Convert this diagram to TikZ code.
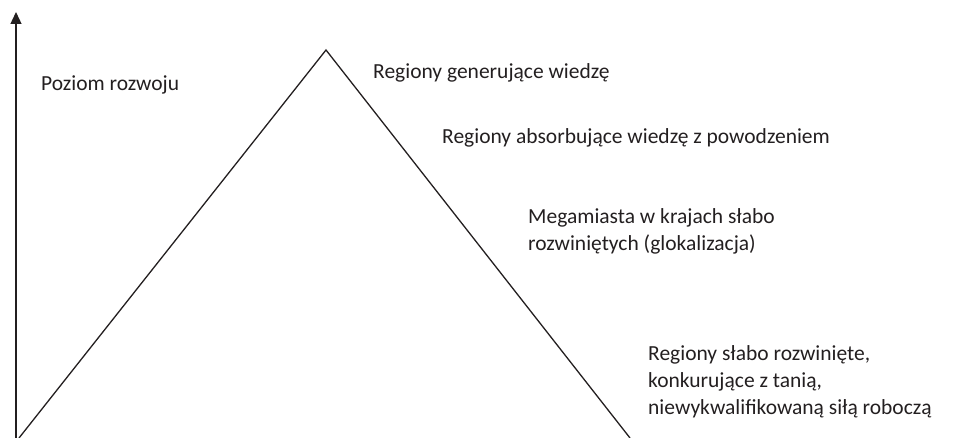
\documentclass[tikz,border=0pt]{standalone}
\usepackage{fontspec}
\setmainfont{Carlito}
\usetikzlibrary{arrows.meta}
\definecolor{ink}{HTML}{231F20}
\begin{document}
\begin{tikzpicture}[x=1pt,y=-1pt,
  lbl/.style={anchor=base west,inner sep=0pt,align=left,text=ink,font=\fontsize{21.5}{27}\selectfont},
  edge/.style={draw=ink,line width=1.3pt}]
\useasboundingbox (0,0) rectangle (965,438);
\coordinate (o) at (16,438);
\coordinate (top) at (16,12);
\coordinate (l) at (19,438);
\coordinate (p) at (326,50);
\coordinate (r) at (630,438);
\draw[edge,-{Triangle[length=12pt,width=11pt]}] (o) -- (top);
\draw[edge,line join=miter] (l) -- (p) -- (r);
\node[lbl] (t0) at (41,91) {Poziom rozwoju};
\node[lbl] (t1) at (373,79) {Regiony generujące wiedzę};
\node[lbl] (t2) at (442,144) {Regiony absorbujące wiedzę z powodzeniem};
\node[lbl] (t3) at (528,250) {Megamiasta w krajach słabo\\rozwiniętych (glokalizacja)};
\node[lbl] (t4) at (648,414) {Regiony słabo rozwinięte,\\konkurujące z tanią,\\niewykwalifikowaną siłą roboczą};
\end{tikzpicture}
\end{document}
